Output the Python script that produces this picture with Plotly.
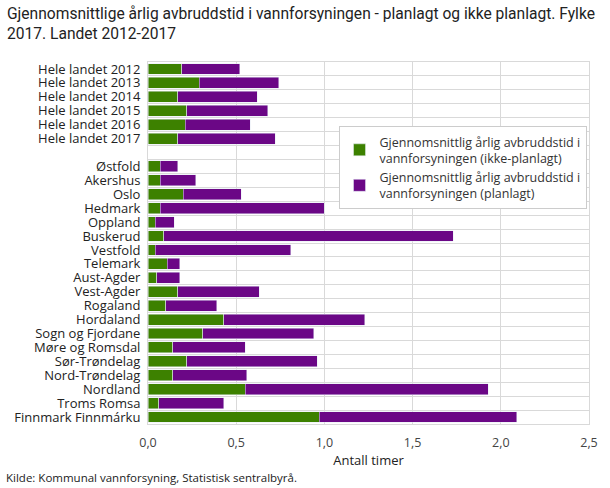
import plotly.graph_objects as go

categories = [
    "Hele landet 2012", "Hele landet 2013", "Hele landet 2014",
    "Hele landet 2015", "Hele landet 2016", "Hele landet 2017", " ",
    "Østfold", "Akershus", "Oslo", "Hedmark", "Oppland", "Buskerud",
    "Vestfold", "Telemark", "Aust-Agder", "Vest-Agder", "Rogaland",
    "Hordaland", "Sogn og Fjordane", "Møre og Romsdal", "Sør-Trøndelag",
    "Nord-Trøndelag", "Nordland", "Troms Romsa", "Finnmark Finnmárku",
]
ikke_planlagt = [
    0.19, 0.29, 0.17, 0.22, 0.21, 0.17, None,
    0.07, 0.07, 0.20, 0.07, 0.04, 0.09,
    0.04, 0.11, 0.05, 0.17, 0.10,
    0.43, 0.31, 0.14, 0.22,
    0.14, 0.55, 0.06, 0.97,
]
planlagt = [
    0.33, 0.45, 0.45, 0.46, 0.37, 0.55, None,
    0.10, 0.20, 0.33, 0.93, 0.11, 1.64,
    0.77, 0.07, 0.13, 0.46, 0.29,
    0.80, 0.63, 0.41, 0.74,
    0.42, 1.38, 0.37, 1.12,
]

green = "#3d8100"
purple = "#6b0786"
title_font = dict(family="Roboto", size=15.6, color="#222222")

fig = go.Figure()
fig.add_trace(go.Bar(
    y=categories, x=ikke_planlagt, orientation="h", marker_color=green,
    legendgroup="a",
    name="Gjennomsnittlig årlig avbruddstid i<br>vannforsyningen (ikke-planlagt)",
))
fig.add_trace(go.Bar(
    y=categories, x=planlagt, orientation="h", marker_color=purple,
    legendgroup="b",
    name="Gjennomsnittlig årlig avbruddstid i<br>vannforsyningen (planlagt)",
))

fig.update_layout(
    barmode="stack",
    bargap=0.22,
    width=610, height=488,
    separators=", ",
    paper_bgcolor="white", plot_bgcolor="white",
    font=dict(family="Open Sans", size=13, color="#222222"),
    margin=dict(l=148, r=15, t=62, b=64),
    legend=dict(
        x=0.432, y=0.823, xanchor="left", yanchor="top",
        bgcolor="white", bordercolor="#cccccc", borderwidth=1,
        font=dict(size=12.5, color="#333333"), traceorder="normal",
        tracegroupgap=10, itemwidth=30,
    ),
    annotations=[
        dict(
            text="Gjennomsnittlige årlig avbruddstid i vannforsyningen - planlagt og ikke planlagt. Fylke",
            xref="paper", yref="paper", x=-0.3244, y=1.133,
            xanchor="left", yanchor="middle", showarrow=False, font=title_font,
        ),
        dict(
            text="2017. Landet 2012-2017",
            xref="paper", yref="paper", x=-0.3244, y=1.077,
            xanchor="left", yanchor="middle", showarrow=False, font=title_font,
        ),
        dict(
            text="Kilde: Kommunal vannforsyning, Statistisk sentralbyrå.",
            xref="paper", yref="paper", x=-0.3266, y=-0.149,
            xanchor="left", yanchor="middle", showarrow=False,
            font=dict(size=11.5, color="#222222"),
        ),
    ],
)
fig.update_xaxes(
    range=[0, 2.5], dtick=0.5, tickformat=".1f",
    showgrid=True, gridcolor="#d9d9d9", zeroline=False,
    showline=True, linecolor="#d9d9d9", mirror=True,
    title=dict(text="Antall timer", standoff=5, font=dict(size=13)),
    ticks="", ticklabelstandoff=7, tickfont=dict(size=12.5, color="#444444"),
)
fig.update_yaxes(
    autorange="reversed", categoryorder="array", categoryarray=categories,
    tickmode="array", tickvals=categories, ticktext=categories,
    showgrid=True, gridcolor="#d9d9d9", tickson="boundaries",
    showline=True, linecolor="#d9d9d9", mirror=True, ticks="",
    ticklabelstandoff=4, tickfont=dict(size=13),
)
fig.write_html(
    "out.html",
    config={"displayModeBar": False},
    post_script="document.body.style.margin='0';",
)
